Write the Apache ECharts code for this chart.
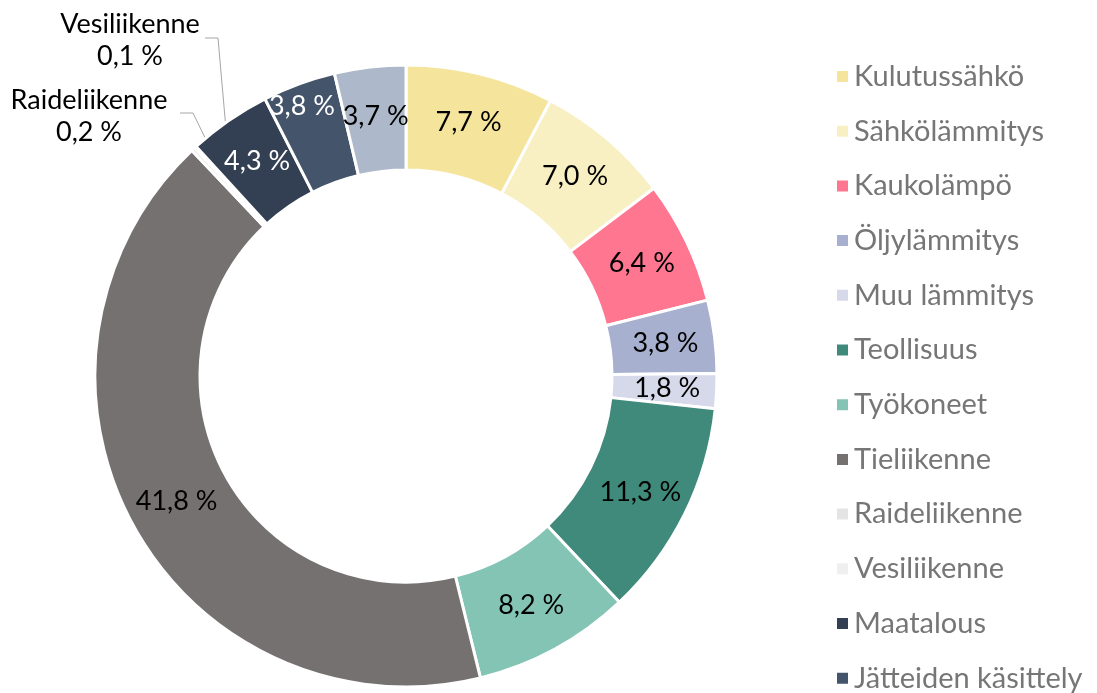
<!DOCTYPE html>
<html lang="fi">
<head>
<meta charset="UTF-8">
<title>Päästöt sektoreittain</title>
<script src="https://cdn.jsdelivr.net/npm/echarts@6/dist/echarts.min.js"></script>
<style>
  html, body { margin: 0; padding: 0; background: #fff; }
  #main { width: 1097px; height: 693px; }
</style>
</head>
<body>
<div id="main"></div>
<script>
// sektorit ja osuudet (%)
var names = ['Kulutussähkö', 'Sähkölämmitys', 'Kaukolämpö', 'Öljylämmitys', 'Muu lämmitys',
             'Teollisuus', 'Työkoneet', 'Tieliikenne', 'Raideliikenne', 'Vesiliikenne',
             'Maatalous', 'Jätteiden käsittely', 'F-kaasut'];
var values = [7.7, 7.0, 6.4, 3.8, 1.8, 11.3, 8.2, 41.8, 0.2, 0.1, 4.3, 3.8, 3.7];
var colors = ['#F5E59C', '#F8F0C3', '#FF7690', '#A8B0CF', '#D6D9EA', '#3F8A7A', '#83C4B5',
              '#757170', '#E4E4E4', '#EFEFEF', '#333F52', '#44546A', '#ADB9CA'];
// legenda näyttää vain 12 ensimmäistä
var legendNames = names.slice(0, 12);
var whiteLabels = ['Maatalous', 'Jätteiden käsittely'];
var outsideLabels = ['Raideliikenne', 'Vesiliikenne'];

var cx = 406, cy = 376, rIn = 206, rOut = 311;
var total = values.reduce(function (a, b) { return a + b; }, 0);

function fmt(v) {
    return v.toFixed(1).replace('.', ',') + ' %';
}

// slicen keskipiste renkaan puolivälissä
function midPoint(idx) {
    var before = 0;
    for (var i = 0; i < idx; i++) before += values[i];
    var ang = (before + values[idx] / 2) / total * 2 * Math.PI;
    var r = (rIn + rOut) / 2;
    return [cx + r * Math.sin(ang), cy - r * Math.cos(ang)];
}

var data = names.map(function (n, i) {
    var item = { name: n, value: values[i], itemStyle: { color: colors[i] } };
    if (whiteLabels.indexOf(n) >= 0) {
        item.label = { color: '#fff' };
    }
    if (outsideLabels.indexOf(n) >= 0) {
        item.label = {
            position: 'outside',
            formatter: function (p) { return p.name + '\n' + fmt(p.value); },
            align: 'center',
            lineHeight: 32
        };
        item.labelLine = { show: true, lineStyle: { color: '#A6A6A6', width: 1 } };
    }
    return item;
});

var myChart = echarts.init(document.getElementById('main'));
var option = {
    animation: false,
    backgroundColor: '#fff',
    textStyle: { fontFamily: 'Lato' },
    legend: {
        orient: 'vertical',
        left: 830,
        top: 57,
        height: 700,
        data: legendNames,
        icon: 'rect',
        itemWidth: 13,
        itemHeight: 13,
        itemGap: 25.7,
        textStyle: {
            fontFamily: 'Lato',
            fontSize: 29,
            lineHeight: 29,
            color: '#767676'
        }
    },
    series: [{
        type: 'pie',
        center: [cx, cy],
        radius: [rIn, rOut],
        startAngle: 90,
        clockwise: true,
        avoidLabelOverlap: false,
        itemStyle: { borderColor: '#fff', borderWidth: 3 },
        label: {
            show: true,
            position: 'inside',
            fontFamily: 'Lato',
            fontSize: 27,
            color: '#000',
            formatter: function (p) { return fmt(p.value); }
        },
        labelLine: { show: false },
        labelLayout: function (p) {
            var n = names[p.dataIndex];
            if (n === 'Raideliikenne') {
                var end = midPoint(p.dataIndex);
                return {
                    x: 89, y: 116, align: 'center', verticalAlign: 'middle',
                    labelLinePoints: [[180, 113], [193, 113], end]
                };
            }
            if (n === 'Vesiliikenne') {
                var end2 = midPoint(p.dataIndex);
                return {
                    x: 130, y: 40, align: 'center', verticalAlign: 'middle',
                    labelLinePoints: [[205, 38], [218, 38], end2]
                };
            }
            if (n === 'Jätteiden käsittely') {
                return { dx: -14, dy: -24 };
            }
        },
        data: data
    }]
};
myChart.setOption(option);
</script>
</body>
</html>
